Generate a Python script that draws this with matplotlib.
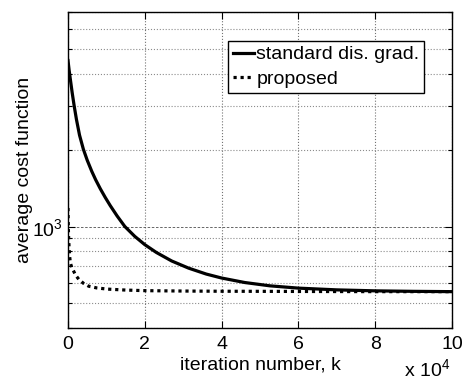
import numpy as np
import matplotlib
matplotlib.use("Agg")
from matplotlib import pyplot as plt
from matplotlib.ticker import LogLocator, NullFormatter, FixedLocator

## values (x in units of 1e4 iterations)
std_k = [0.0, 0.03, 0.07, 0.11, 0.16, 0.22, 0.3, 0.4, 0.5, 0.62, 0.72, 0.84, 0.97,
         1.1, 1.28, 1.48, 1.74, 2.0, 2.3, 2.7, 3.14, 3.6, 4.0, 4.6, 5.26, 6.0,
         7.0, 8.0, 9.0, 10.0]
std_cost = [4510, 4125, 3720, 3360, 2995, 2645, 2295, 2020, 1829, 1652, 1532, 1413, 1305,
            1212, 1103, 1003, 917, 851, 793, 734, 688, 652, 629, 604, 586, 574,
            565, 560, 557.5, 556]

prop_k = [0.0, 0.005, 0.012, 0.02, 0.03, 0.045, 0.06, 0.1, 0.15, 0.2, 0.28, 0.4,
          0.54, 0.75, 1.02, 1.5, 2.0, 3.0, 4.0, 6.0, 8.0, 10.0]
prop_cost = [1186, 1050, 950, 880, 815, 760, 723, 690, 668, 645, 622, 600,
             584, 575, 569, 564, 561, 559, 558, 557, 556, 556]

x_ticks = [0, 2, 4, 6, 8, 10]
labels = ["standard dis. grad.", "proposed"]

plt.rcParams['font.family'] = ['Liberation Sans', 'DejaVu Sans']
plt.rcParams['font.size'] = 14
plt.rcParams['mathtext.fontset'] = 'custom'
plt.rcParams['mathtext.rm'] = 'Liberation Sans'
plt.rcParams['mathtext.it'] = 'Liberation Sans:italic'
plt.rcParams['mathtext.bf'] = 'Liberation Sans:bold'

fig = plt.figure(figsize=(4.66, 3.81), dpi=100)
ax = fig.add_axes([68/466, 1 - 328/381, (452-68)/466, (328-12)/381])

ax.plot(std_k, std_cost, color='k', lw=2.3, ls='-', label=labels[0])
ax.plot(prop_k, prop_cost, color='k', lw=2.3, ls=(0, (1, 1.2)), label=labels[1])

ax.set_yscale('log')
ax.set_xlim(0, 10)
ax.set_ylim(400, 7000)
ax.xaxis.set_major_locator(FixedLocator(x_ticks))
ax.set_xticklabels([str(t) for t in x_ticks])
ax.yaxis.set_major_locator(FixedLocator([1000]))
ax.set_yticklabels([r"$\mathregular{10^3}$"])
ax.yaxis.set_minor_locator(LogLocator(base=10, subs=np.arange(2, 10)))
ax.yaxis.set_minor_formatter(NullFormatter())

ax.grid(True, which='major', axis='x', color='0.45', ls=':', lw=0.8)
ax.grid(True, which='major', axis='y', color='0.3', ls=(0, (3, 2)), lw=0.6)
ax.grid(True, which='minor', axis='y', color='0.55', ls=':', lw=0.8)

ax.tick_params(which='both', direction='in', top=True, right=True, width=0.8)
ax.tick_params(which='major', length=5)
ax.tick_params(axis='x', which='major', pad=6)
ax.tick_params(axis='y', which='major', pad=3.5)
ax.tick_params(which='minor', length=3)
for s in ax.spines.values():
    s.set_linewidth(1.0)

ax.set_xlabel("iteration number, k", va='baseline')
ax.xaxis.set_label_coords(0.5, (328-370)/316)
ax.set_ylabel("average cost function", va='center')
ax.yaxis.set_label_coords((25-68)/384, 0.5)
fig.text(450/466, 1 - 376/381, r"x 10$^4$", ha='right', va='baseline', fontsize=14)

leg = ax.legend(loc='upper left', bbox_to_anchor=((228-68)/384, (328-41)/316),
                frameon=True, fancybox=False, edgecolor='k', framealpha=1,
                handlelength=1.1, handletextpad=0.1, borderpad=0.25,
                labelspacing=0.35, borderaxespad=0)
leg.get_frame().set_linewidth(1.0)

fig.savefig("out.png", dpi=100)
